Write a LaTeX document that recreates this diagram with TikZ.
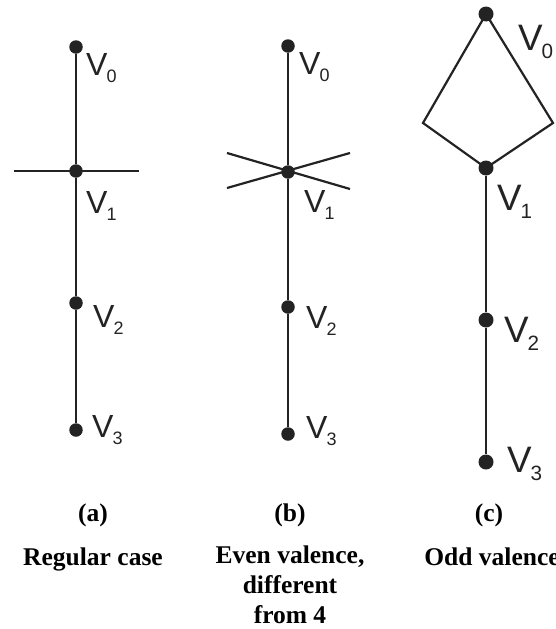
\documentclass[tikz,border=0pt]{standalone}
\usepackage{fontspec}
\usepackage{xcolor}
\usepackage{tikz}
\usetikzlibrary{positioning, calc}
\setmainfont{Liberation Serif}
\newfontfamily\vfam{Liberation Sans}
\definecolor{mydark}{RGB}{35,35,35}
\newcommand{\vfont}{\vfam\fontsize{32}{32}\selectfont}
\newcommand{\capfont}{\fontsize{25.5}{30}\selectfont\bfseries}
\newcommand{\vsub}[1]{V\kern-1pt\raisebox{-7pt}{\fontsize{18}{18}\selectfont #1}}
\tikzset{
  vtx/.style={circle, fill=mydark, inner sep=0pt, minimum size=13.5pt},
  bigvtx/.style={circle, fill=mydark, inner sep=0pt, minimum size=15pt},
  vlbl/.style={anchor=base west, inner sep=0pt, font=\vfont, text=mydark},
  vline/.style={line width=2.2pt, color=mydark},
  captxt/.style={anchor=base, inner sep=0pt, font=\capfont, align=center}
}

\begin{document}
\begin{tikzpicture}[x=1pt, y=-1pt]
\useasboundingbox (0,0) rectangle (555,629);

%--- (a) regular case ---
\node[vtx] (a0) at (76, 47)  {};
\node[vtx] (a1) at (76, 171) {};
\node[vtx] (a2) at (76, 303) {};
\node[vtx] (a3) at (76, 430) {};
\coordinate (al) at (14, 171);
\coordinate (ar) at (139, 171);
\draw[vline] (a0) -- (a1) -- (a2) -- (a3);
\draw[vline] (al) -- (ar);
\node[vlbl] (la0) at (86, 75)  {\vsub{0}};
\node[vlbl] (la1) at (86, 213) {\vsub{1}};
\node[vlbl] (la2) at (93, 327) {\vsub{2}};
\node[vlbl] (la3) at (92, 437) {\vsub{3}};

%--- (b) even valence ---
\node[vtx] (b0) at (288, 46)  {};
\node[vtx] (b1) at (288, 172) {};
\node[vtx] (b2) at (288, 307) {};
\node[vtx] (b3) at (288, 434) {};
\coordinate (bl1) at (227, 153);
\coordinate (br1) at (350, 189);
\coordinate (bl2) at (227, 188);
\coordinate (br2) at (350, 153);
\draw[vline] (b0) -- (b1) -- (b2) -- (b3);
\draw[vline] (bl1) -- (br1);
\draw[vline] (bl2) -- (br2);
\node[vlbl] (lb0) at (299, 74)  {\vsub{0}};
\node[vlbl] (lb1) at (304, 212) {\vsub{1}};
\node[vlbl] (lb2) at (306, 328) {\vsub{2}};
\node[vlbl] (lb3) at (306, 438) {\vsub{3}};

%--- (c) odd valence ---
\node[bigvtx] (c0) at (486, 14)  {};
\node[bigvtx] (c1) at (486, 168) {};
\node[bigvtx] (c2) at (486, 320) {};
\node[bigvtx] (c3) at (486, 462) {};
\coordinate (cl) at (423, 123);
\coordinate (cr) at (553, 123);
\draw[vline] (c0.center) -- (cl) -- (c1.center) -- (cr) -- cycle;
\draw[vline] (c1) -- (c2) -- (c3);
\node[vlbl, scale=1.15, transform shape] (lc0) at (518, 50)  {\vsub{0}};
\node[vlbl, scale=1.15, transform shape] (lc1) at (497, 210) {\vsub{1}};
\node[vlbl, scale=1.15, transform shape] (lc2) at (504, 342) {\vsub{2}};
\node[vlbl, scale=1.15, transform shape] (lc3) at (507, 472) {\vsub{3}};

%--- captions ---
\node[captxt] (ta) at (93, 521)  {(a)};
\node[captxt] (tb) at (290, 521) {(b)};
\node[captxt] (tc) at (489, 521) {(c)};
\node[captxt] (da) at (93, 565)  {Regular case};
\node[captxt, anchor=north] (db) at (290, 546) {Even valence,\\different\\from 4};
\node[captxt] (dc) at (492, 565) {Odd valence};
\end{tikzpicture}
\end{document}
